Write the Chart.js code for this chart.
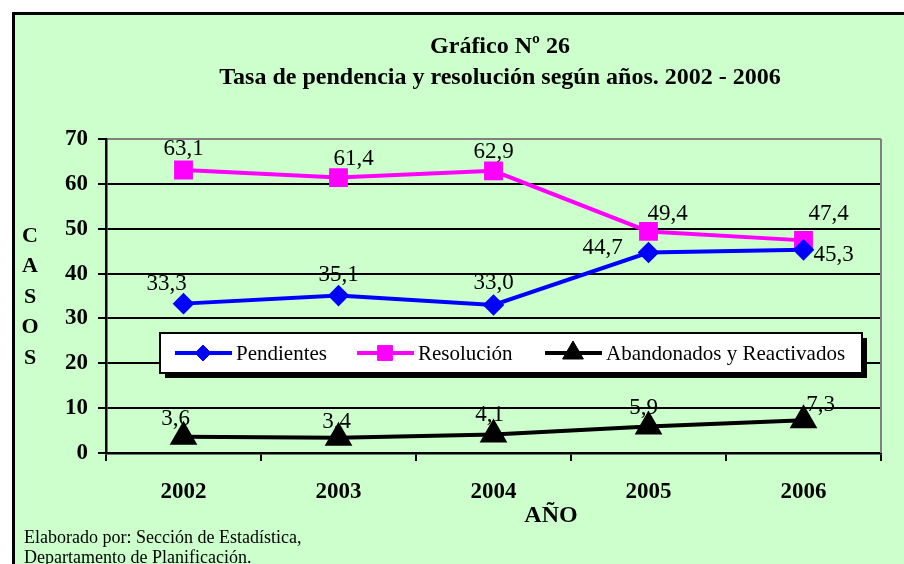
<!DOCTYPE html>
<html><head><meta charset="utf-8">
<script src="https://cdn.jsdelivr.net/npm/chart.js@4"></script>
<style>html,body{margin:0;padding:0;background:#fff}canvas{display:block}</style>
</head><body>
<canvas id="c" width="904" height="564"></canvas>
<script>
const years = ['2002','2003','2004','2005','2006'];
const pendientes = [33.3, 35.1, 33.0, 44.7, 45.3];
const resolucion = [63.1, 61.4, 62.9, 49.4, 47.4];
const abandonados = [3.6, 3.4, 4.1, 5.9, 7.3];
const seriesNames = ['Pendientes', 'Resolución', 'Abandonados y Reactivados'];

// where each value label sits relative to its point
const labelOffsets = [
  [[-17,-20],[0,-21],[0,-22],[-46,-5],[30,5]],
  [[0,-21],[15,-19],[0,-19],[19,-17],[25,-26]],
  [[-8,-18],[-2,-16],[-4,-20],[-5,-19],[17,-15]]
];

const SERIF = '"Liberation Serif", "Times New Roman", serif';
const fmt = v => v.toFixed(1).replace('.', ',');

const decor = {
  id:'decor',
  beforeDraw(chart){
    const c = chart.ctx;
    c.save();
    c.fillStyle='#fff'; c.fillRect(0,0,chart.width,chart.height);
    c.fillStyle='#CCFFCC'; c.fillRect(14,14,chart.width,chart.height);
    c.strokeStyle='#000'; c.lineWidth=3;
    c.strokeRect(13.5,13.5,chart.width+10,chart.height+10);
    c.restore();
  },
  afterDatasetsDraw(chart){
    const c = chart.ctx, a = chart.chartArea;
    c.save();
    // right border of plot area
    c.strokeStyle='#808080'; c.lineWidth=2;
    c.beginPath(); c.moveTo(a.right, a.top); c.lineTo(a.right, a.bottom); c.stroke();

    // value labels
    c.fillStyle='#000'; c.font='23px '+SERIF; c.textAlign='center'; c.textBaseline='middle';
    chart.data.datasets.forEach((ds,i)=>{
      chart.getDatasetMeta(i).data.forEach((p,j)=>{
        const o = labelOffsets[i][j];
        c.fillText(fmt(ds.data[j]), p.x+o[0], p.y+o[1]);
      });
    });

    // legend box
    const lx=160, ly=333, lw=702, lh=40;
    c.fillStyle='#000'; c.fillRect(lx+5, ly+5, lw, lh);
    c.fillStyle='#fff'; c.fillRect(lx, ly, lw, lh);
    c.strokeStyle='#000'; c.lineWidth=2; c.strokeRect(lx, ly, lw, lh);
    const itemX = [175, 357, 545];
    c.font='21px '+SERIF; c.textAlign='left';
    chart.data.datasets.forEach((ds,i)=>{
      const x0 = itemX[i], y0 = ly+lh/2;
      c.strokeStyle=ds.borderColor; c.lineWidth=4;
      c.beginPath(); c.moveTo(x0,y0); c.lineTo(x0+57,y0); c.stroke();
      c.fillStyle=ds.backgroundColor; c.lineWidth=1;
      Chart.helpers.drawPoint(c, {pointStyle:ds.pointStyle, radius:ds.pointRadius, borderWidth:1}, x0+28, y0);
      c.fillStyle='#000';
      c.fillText(seriesNames[i], x0+61, y0+1);
    });

    // titles
    c.textAlign='center';
    c.font='bold 24px '+SERIF;
    c.fillText('Gráfico Nº 26', 500, 47);
    c.fillText('Tasa de pendencia y resolución según años. 2002 - 2006', 500, 78);
    c.fillText('AÑO', 551, 516);
    c.font='bold 22px '+SERIF;
    'CASOS'.split('').forEach((ch,k)=> c.fillText(ch, 30, 236 + k*30.5));
    c.font='18px '+SERIF; c.textAlign='left';
    c.fillText('Elaborado por: Sección de Estadística,', 24, 538);
    c.fillText('Departamento de Planificación.', 24, 558);
    c.restore();
  }
};

const mk = (label, data, color, style, r) => ({
  label, data, borderColor:color, backgroundColor:color, pointBackgroundColor:color,
  pointBorderColor:color, pointStyle:style, pointRadius:r, pointHoverRadius:r,
  borderWidth:4, tension:0, clip:false
});

new Chart(document.getElementById('c'), {
  type:'line',
  data:{
    labels: years,
    datasets:[
      mk(seriesNames[0], pendientes, '#0000FF', 'rectRot', 8),
      mk(seriesNames[1], resolucion, '#FF00FF', 'rect', 10.5),
      mk(seriesNames[2], abandonados, '#000000', 'triangle', 12)
    ]
  },
  options:{
    responsive:false, animation:false,
    layout:{ padding:{ top:139, right:23, left:0, bottom:0 } },
    plugins:{ legend:{display:false}, tooltip:{enabled:false}, title:{display:false} },
    scales:{
      x:{
        offset:true,
        afterFit(s){ s.height = 111; },
        grid:{ drawOnChartArea:false, offset:true, tickLength:8, color:'#000', lineWidth:2 },
        border:{ color:'#000', width:2.5 },
        ticks:{ color:'#000', padding:17, font:{ family:SERIF, size:23, weight:'bold' } }
      },
      y:{
        min:0, max:70,
        afterFit(s){ s.width = 106; },
        grid:{ color: ctx => ctx.tick && ctx.tick.value === 70 ? '#808080' : '#000', tickColor:'#000', lineWidth:2, tickLength:8 },
        border:{ color:'#000', width:2.5 },
        ticks:{ stepSize:10, color:'#000', padding:10, font:{ family:SERIF, size:23, weight:'bold' } }
      }
    }
  },
  plugins:[decor]
});
</script>
</body></html>
